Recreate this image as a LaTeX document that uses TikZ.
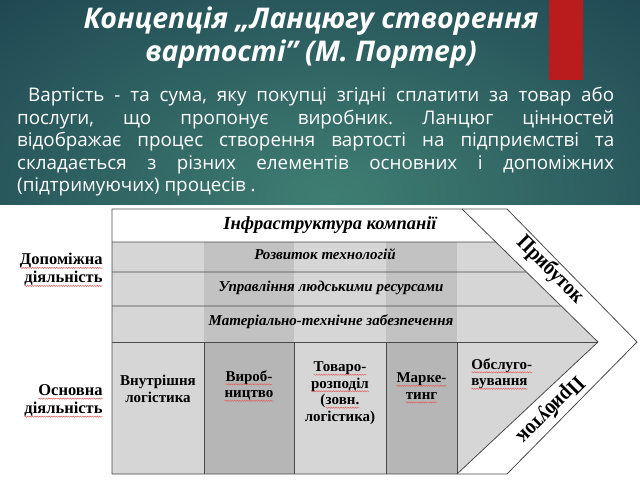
\documentclass[tikz,border=0pt]{standalone}
\usepackage{fontspec}
\setmainfont{Liberation Serif}
\newfontfamily\hdfont{Open Sans}
\usepackage{graphicx}
\usetikzlibrary{calc,decorations.pathmorphing}

\definecolor{tealdark}{HTML}{1B3F4E}
\definecolor{teallight}{HTML}{3F7E72}
\definecolor{redbar}{HTML}{BA1C1E}
\definecolor{lgray}{HTML}{D6D6D6}
\definecolor{sgray}{HTML}{C2C2C2}
\definecolor{pgray}{HTML}{B6B6B6}
\definecolor{lineg}{HTML}{4A4A4A}
\definecolor{wavered}{HTML}{E06060}

\newcommand\sqw[1]{\tikz[baseline=(w.base),x=1pt,y=1pt]{\node[inner sep=0pt,outer sep=0pt,anchor=base] (w) at (0,0) {#1};\draw[wavered, line width=0.5pt, decorate, decoration={snake, amplitude=0.6pt, segment length=2.4pt}] ([yshift=-3.2pt]w.base west) -- ([yshift=-3.2pt]w.base east);}}

\tikzset{
  frame/.style={draw=lineg, line width=0.8pt},
  supp/.style={font=\bfseries\itshape\fontsize{15}{17}\selectfont, inner sep=0pt},
  prim/.style={font=\bfseries\fontsize{15}{16.5}\selectfont, align=center, inner sep=0pt},
  side/.style={font=\bfseries\fontsize{16.5}{18}\selectfont, align=right, anchor=east, inner sep=0pt},
  profit/.style={font=\bfseries\fontsize{22}{22}\selectfont, inner sep=0pt},
}

\begin{document}
\begin{tikzpicture}[x=1pt,y=-1pt]
\useasboundingbox (0,0) rectangle (640,480);
\fill[white] (0,0) rectangle (640,480);

% header background
\begin{scope}
  \clip (0,0) rectangle (640,204);
  \fill[tealdark] (0,0) rectangle (640,204);
  \shade[inner color=teallight, outer color=tealdark] (330,195) ellipse (540 and 320);
\end{scope}
\fill[redbar] (549,0) rectangle (583,80);

% title
\node[font=\hdfont\bfseries\itshape\fontsize{28.5}{33}\selectfont, text=white, align=center, inner sep=0pt] (title) at (311,38) {Концепція „Ланцюгу створення\\вартості” (М. Портер)};

% body text
\node[font=\hdfont\fontsize{18.8}{22.5}\selectfont, text=white, text width=597pt, align=justify, anchor=north west, inner sep=0pt] (body) at (17,87) {\frenchspacing\hspace*{11pt}Вартість - та сума, яку покупці згідні сплатити за товар або\linebreak послуги, що пропонує виробник. Ланцюг цінностей\linebreak відображає процес створення вартості на підприємстві та\linebreak складається з різних елементів основних і допоміжних\linebreak (підтримуючих) процесів .};

% diagram geometry
\coordinate (TL) at (112,209);
\coordinate (TR) at (507,209);
\coordinate (OT) at (637,342);
\coordinate (BR) at (507,474);
\coordinate (BL) at (112,474);
\coordinate (IT) at (462,209);
\coordinate (IP) at (598,342);
\coordinate (IB) at (457,474);
\coordinate (D1) at ($(IT)!0.248!(IP)$);
\coordinate (D2) at ($(IT)!0.4737!(IP)$);
\coordinate (D3) at ($(IT)!0.7293!(IP)$);

% fills
\fill[lgray] (TL) -- (IT) -- (IP) -- (IB) -- (BL) -- cycle;
\fill[white] (TL) -- (IT) -- (D1) -- (112,242) -- cycle;
\fill[sgray] (204,242) rectangle (294,342);
\fill[sgray] (386,242) rectangle (457,342);
\fill[pgray] (204,342) rectangle (294,474);
\fill[pgray] (386,342) rectangle (457,474);

% lines
\draw[frame] (TL) -- (TR) -- (OT) -- (BR) -- (BL) -- cycle;
\draw[frame] (IT) -- (IP) -- (IB);
\draw[frame] (112,242) -- (D1);
\draw[frame] (112,272) -- (D2);
\draw[frame] (112,306) -- (D3);
\draw[frame] (112,342) -- (IP);
\foreach \cx in {204,294,386,457} \draw[frame] (\cx,342) -- (\cx,474);

% support activities
\node[font=\bfseries\itshape\fontsize{18.5}{20}\selectfont, inner sep=0pt] (infra) at (330,225) {Інфраструктура компанії};
\node[supp] (tech) at (325,254) {Розвиток технологій};
\node[supp] (hr) at (331,288) {Управління людськими ресурсами};
\node[supp] (mat) at (331,322) {Матеріально-технічне забезпечення};

% primary activities
\node[prim] (inlog) at (158,389) {Внутрішня\\логістика};
\node[prim] (prod) at (249,386) {\sqw{Вироб-}\\\sqw{ництво}};
\node[prim] (dist) at (340,393) {\sqw{Товаро-}\\\sqw{розподіл}\\(\sqw{зовн.}\\логістика)};
\node[prim] (mkt) at (421.5,388) {\sqw{Марке-}\\\sqw{тинг}};
\node[prim, align=left, anchor=west] (serv) at (471,374) {\sqw{Обслуго-}\\\sqw{вування}};

% side labels
\node[side] (supl) at (103,270) {\sqw{Допоміжна}\\\sqw{діяльність}};
\node[side] (priml) at (103,401) {\sqw{Основна}\\\sqw{діяльність}};

% profit
\node[profit, rotate=-45] (prof1) at (550,270) {\scalebox{0.88}[1]{Прибуток}};
\node[profit, rotate=225] (prof2) at (550,410) {\scalebox{0.88}[1]{Прибуток}};
\end{tikzpicture}
\end{document}
